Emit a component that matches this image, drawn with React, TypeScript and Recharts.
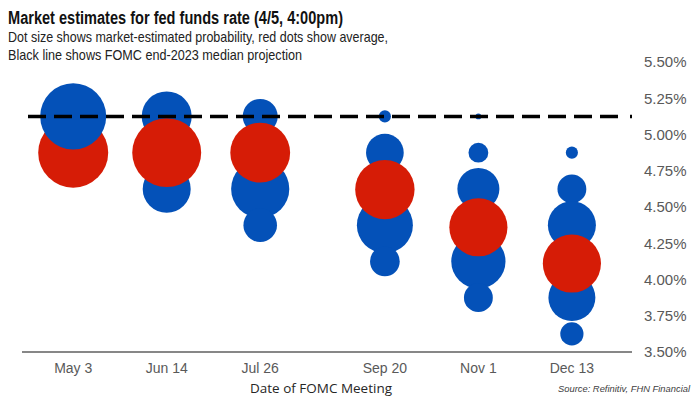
import React from "react";
import { ScatterChart, Scatter, XAxis, YAxis, ReferenceLine } from "recharts";

// FOMC meetings (day of year 2023) and their labels
const meetingLabels = ["May 3", "Jun 14", "Jul 26", "Sep 20", "Nov 1", "Dec 13"];
const meetingDays = [123, 165, 207, 263, 305, 347];

// possible target-range midpoints
const rateLevels = [5.125, 4.875, 4.625, 4.375, 4.125, 3.875, 3.625];

// market-estimated probability for each level, one row per meeting
const mayProbs = [0.89, 0, 0, 0, 0, 0, 0];
const junProbs = [0.51, 0, 0.47, 0, 0, 0, 0];
const julProbs = [0.25, 0, 0.69, 0.23, 0, 0, 0];
const sepProbs = [0.03, 0.29, 0, 0.64, 0.18, 0, 0];
const novProbs = [0.007, 0.08, 0.36, 0, 0.6, 0.17, 0];
const decProbs = [0, 0.03, 0.17, 0.47, 0, 0.45, 0.11];
const probRows = [mayProbs, junProbs, julProbs, sepProbs, novProbs, decProbs];

// red dots: average expected rate and their dot size
const averageRate = [4.875, 4.875, 4.875, 4.62, 4.36, 4.11];
const averageSize = [1.0, 0.97, 0.73, 0.72, 0.69, 0.69];
// meetings whose blue dots sit on top of the red one
const blueOnTop = [true, false, false, false, false, false];

// FOMC end-2023 median projection
const fomcMedian = 5.125;

const yTicks = [3.5, 3.75, 4.0, 4.25, 4.5, 4.75, 5.0, 5.25, 5.5];

const BLUE = "#0451b8";
const RED = "#d61c06";
const MAX_R = 35;

const bluePoints = probRows.flatMap((row, i) =>
  row
    .map((p, j) => ({ day: meetingDays[i], rate: rateLevels[j], p, top: blueOnTop[i] }))
    .filter((d) => d.p > 0)
);
const blueBack = bluePoints.filter((d) => !d.top);
const blueFront = bluePoints.filter((d) => d.top);

const redData = meetingDays.map((day, i) => ({
  day,
  rate: averageRate[i],
  p: averageSize[i],
}));

const bubble = (color: string) => (props: any) => {
  const { cx, cy, payload } = props;
  if (cx == null || cy == null) return <g />;
  return <circle cx={cx} cy={cy} r={MAX_R * Math.sqrt(payload.p)} fill={color} />;
};

const tickFont = '"Liberation Sans", Arial, sans-serif';
const narrowFont = '"Liberation Sans Narrow", "Liberation Sans", Arial, sans-serif';

export default function App() {
  return (
    <div style={{ position: "absolute", left: 0, top: 0, width: 700, height: 403, background: "#fff" }}>
      <ScatterChart width={700} height={403} margin={{ top: 62, right: 10, bottom: 11, left: 22 }}>
        <XAxis
          type="number"
          dataKey="day"
          domain={[100, 374]}
          ticks={meetingDays}
          interval={0}
          allowDataOverflow
          tickFormatter={(v: number) => meetingLabels[meetingDays.indexOf(v)] ?? ""}
          height={40}
          tickSize={0}
          tickMargin={11}
          tickLine={false}
          axisLine={{ stroke: "#878787", strokeWidth: 2 }}
          tick={{ fill: "#595959", fontSize: 14, fontFamily: tickFont }}
        />
        <YAxis
          type="number"
          dataKey="rate"
          orientation="right"
          domain={[3.5, 5.5]}
          ticks={yTicks}
          interval={0}
          width={58}
          tickSize={0}
          tickMargin={12}
          tickLine={false}
          axisLine={false}
          tickFormatter={(v: number) => v.toFixed(2) + "%"}
          tick={{ fill: "#595959", fontSize: 15, fontFamily: tickFont, textAnchor: "start" }}
        />
        <Scatter data={blueBack} fill={BLUE} shape={bubble(BLUE)} isAnimationActive={false} />
        <Scatter data={redData} fill={RED} shape={bubble(RED)} isAnimationActive={false} />
        <Scatter data={blueFront} fill={BLUE} shape={bubble(BLUE)} isAnimationActive={false} />
        <ReferenceLine
          y={fomcMedian}
          stroke="#000"
          strokeWidth={3.5}
          strokeDasharray="2 12 18 8 18 8 18 8 18 8 18 8 18 8 18 8 18 8 18 8 18 8 18 8 18 8 18 8 18 8 18 8 18 8 18 8 18 8 18 8 18 8 18 8 18 8 18 8 18 8 18 8 18 8 18 8 18 8 18 8 18 8 18 8 18 8 18 8 18 8 18 8"
          zIndex={1000}
        />
      </ScatterChart>
      <svg
        width={700}
        height={403}
        style={{ position: "absolute", left: 0, top: 0, pointerEvents: "none" }}
      >
        <text x={8} y={24} fontFamily={narrowFont} fontWeight="bold" fontSize={18} fill="#111" textLength={335} lengthAdjust="spacingAndGlyphs">
          Market estimates for fed funds rate (4/5, 4:00pm)
        </text>
        <text x={8} y={42} fontFamily={narrowFont} fontSize={15} fill="#222" textLength={380} lengthAdjust="spacingAndGlyphs">
          Dot size shows market-estimated probability,  red dots show average,
        </text>
        <text x={8} y={60} fontFamily={narrowFont} fontSize={15} fill="#222" textLength={294} lengthAdjust="spacingAndGlyphs">
          Black line shows FOMC end-2023 median projection
        </text>
        <text x={250} y={393} fontFamily='"Open Sans", sans-serif' fontSize={13} fill="#262626" textLength={142} lengthAdjust="spacingAndGlyphs">
          Date of FOMC Meeting
        </text>
        <text x={558} y={392} fontFamily={tickFont} fontStyle="italic" fontSize={9} fill="#404040" textLength={132} lengthAdjust="spacingAndGlyphs">
          Source:   Refinitiv, FHN Financial
        </text>
      </svg>
    </div>
  );
}
